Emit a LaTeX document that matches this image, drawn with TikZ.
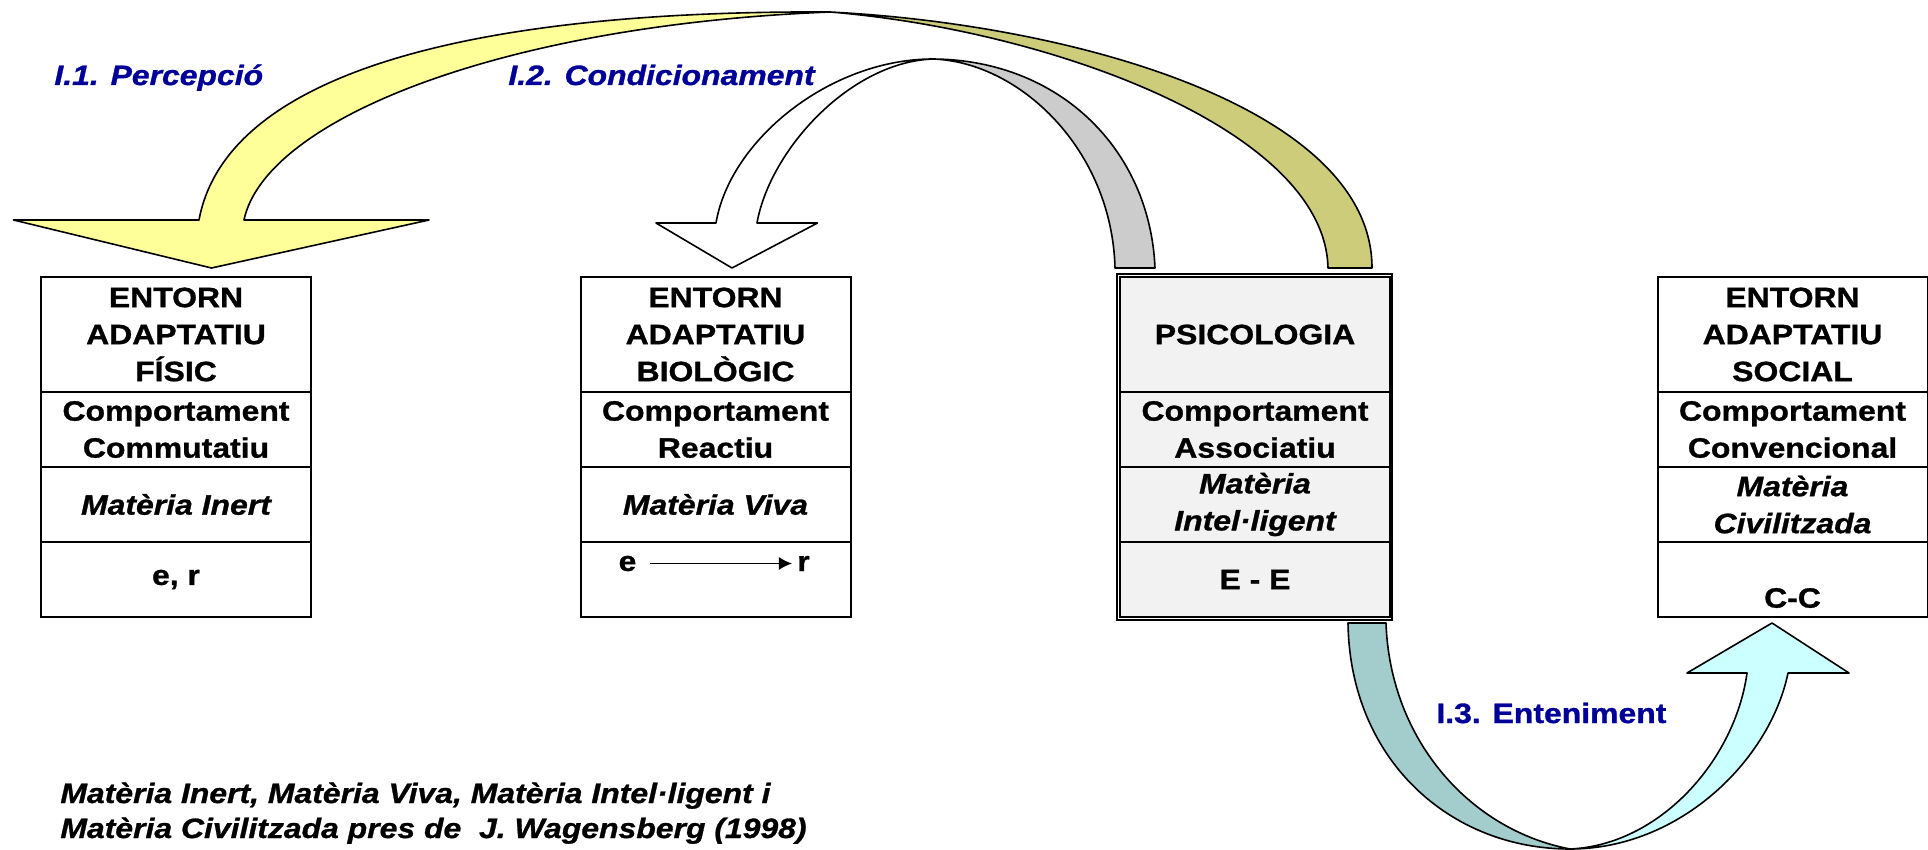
\documentclass[tikz,border=0pt]{standalone}
\usepackage{fontspec}
\setmainfont{Liberation Sans}[
    FakeStretch=1.14,
    BoldFont={Liberation Sans Bold},
    ItalicFont={Liberation Sans Italic},
    BoldItalicFont={Liberation Sans Bold Italic},
    BoldFeatures={FakeBold=1},
    BoldItalicFeatures={FakeBold=1}]
\usetikzlibrary{positioning,arrows.meta}

\definecolor{navy}{HTML}{000099}
\definecolor{yel}{HTML}{FFFF99}
\definecolor{olv}{HTML}{CCCC7A}
\definecolor{gry}{HTML}{CCCCCC}
\definecolor{tea}{HTML}{A3CCCC}
\definecolor{cyn}{HTML}{CCFFFF}
\definecolor{psigray}{HTML}{F2F2F2}

\newcommand{\boxfont}{\bfseries\fontsize{14}{18.5}\selectfont}

\tikzset{
    cell/.style={draw,line width=1pt,outer sep=0pt,inner sep=0pt,minimum width=135pt,minimum height=37.5pt,align=center,font=\boxfont},
    headcell/.style={cell,minimum height=57.5pt},
    ital/.style={font=\boxfont\itshape},
    band/.style={draw,line width=0.8pt,line join=round},
    lbl/.style={anchor=base west,inner sep=0pt,text=navy,font=\boxfont},
    foot/.style={anchor=base west,inner sep=0pt,font=\boxfont\itshape}
}

\begin{document}
\begin{tikzpicture}[x=0.5pt,y=-0.5pt]
    \useasboundingbox (0,0) rectangle (1928,850);

    % I.1 arrow
    \draw[band,fill=olv] (830,12) .. controls (1080,25) and (1372,110) .. (1372,268) -- (1328,268) .. controls (1325,130) and (1050,30) .. (830,12) -- cycle;
    \draw[band,fill=yel] (830,12) .. controls (500,25) and (265,120) .. (244,220) -- (429,220) -- (211.5,268) -- (13.5,220) -- (199,220) .. controls (225,80) and (450,10) .. (830,12) -- cycle;

    % I.2 arrow
    \draw[band,fill=gry] (933,59) .. controls (1060,60) and (1150,150) .. (1155,268) -- (1115,268) .. controls (1112,150) and (1020,62) .. (933,59) -- cycle;
    \draw[band,fill=white] (933,59) .. controls (850,62) and (770,150) .. (757,223) -- (817.5,223) -- (732,268) -- (656,223) -- (716,223) .. controls (730,140) and (830,59) .. (933,59) -- cycle;

    % I.3 arrow
    \draw[band,fill=tea] (1348,623) .. controls (1350,760) and (1450,849) .. (1570,849) .. controls (1470,830) and (1390,740) .. (1386,623) -- cycle;
    \draw[band,fill=cyn] (1570,849) .. controls (1680,849) and (1770,760) .. (1788,673) -- (1849,673) -- (1772,623) -- (1687,673) -- (1747,673) .. controls (1735,760) and (1660,845) .. (1570,849) -- cycle;

    \node[lbl,font=\boxfont\itshape] (perc) at (54,85) {I.1. Percepció};
    \node[lbl,font=\boxfont\itshape] (cond) at (508,85) {I.2. Condicionament};
    \node[lbl] (ente) at (1436,723) {I.3. Enteniment};

    \node[headcell] (fis1) at (176,334.5) {ENTORN\\ADAPTATIU\\FÍSIC};
    \node[cell,below=0pt of fis1] (fis2) {Comportament\\Commutatiu};
    \node[cell,ital,below=0pt of fis2] (fis3) {Matèria Inert};
    \node[cell,below=0pt of fis3] (fis4) {e, r};

    \node[headcell] (bio1) at (715.5,334.5) {ENTORN\\ADAPTATIU\\BIOLÒGIC};
    \node[cell,below=0pt of bio1] (bio2) {Comportament\\Reactiu};
    \node[cell,ital,below=0pt of bio2] (bio3) {Matèria Viva};
    \node[cell,below=0pt of bio3] (bio4) {};
    \node[inner sep=0pt,font=\boxfont] (e) at ([shift={(-88,-16)}]bio4.center) {e};
    \node[inner sep=0pt,font=\boxfont] (r) at ([shift={(88,-16)}]bio4.center) {r};
    \draw[line width=0.6pt,-{Latex[length=6.5pt,width=6.5pt]},shorten <=6.5pt,shorten >=2.5pt] (e) -- (r);

    \node[headcell,fill=psigray] (psi1) at (1255,334.5) {PSICOLOGIA};
    \node[cell,fill=psigray,below=0pt of psi1] (psi2) {Comportament\\Associatiu};
    \node[cell,ital,fill=psigray,below=0pt of psi2] (psi3) {Matèria\\Intel·ligent};
    \node[cell,fill=psigray,below=0pt of psi3] (psi4) {E - E};
    \draw[line width=1.3pt] (psi1.north west) rectangle (psi4.south east);
    \draw[line width=0.6pt] ([shift={(-3,-3)}]psi1.north west) rectangle ([shift={(2,3)}]psi4.south east);

    \node[headcell] (soc1) at (1792.5,334.5) {ENTORN\\ADAPTATIU\\SOCIAL};
    \node[cell,below=0pt of soc1] (soc2) {Comportament\\Convencional};
    \node[cell,ital,below=0pt of soc2] (soc3) {Matèria\\Civilitzada};
    \node[cell,below=0pt of soc3] (soc4) {\phantom{C}\\C-C};

    \node[foot] (ref1) at (60,803) {Matèria Inert, Matèria Viva, Matèria Intel·ligent i};
    \node[foot] (ref2) at (60,838) {Matèria Civilitzada pres de~~J. Wagensberg (1998)};
\end{tikzpicture}
\end{document}
